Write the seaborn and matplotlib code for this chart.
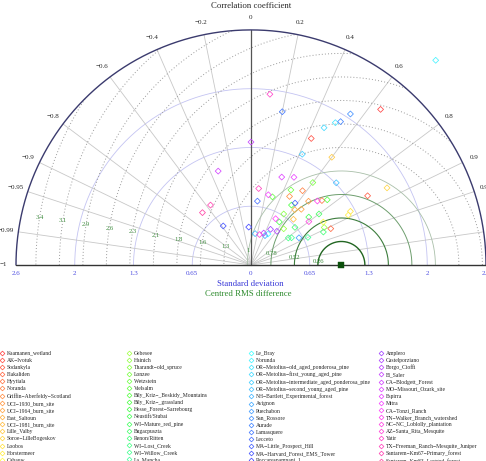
import numpy as np
import pandas as pd
import matplotlib
matplotlib.use("Agg")
import matplotlib.pyplot as plt
import matplotlib.colors as mcolors
from matplotlib.lines import Line2D
from matplotlib.legend import Legend
import seaborn as sns

# ---- data -------------------------------------------------------------
sites_col1 = ["Kaamanen_wetland", "AK-Ivotuk", "Sodankyla", "Flakaliden", "Hyytiala",
              "Noranda", "Griffin-Aberfeldy-Scotland", "UCI-1930_burn_site",
              "UCI-1964_burn_site", "East_Saltoun", "UCI-1981_burn_site", "Lille_Valby",
              "Soroe-LilleBogeskov", "Loobos", "Horstermeer", "Cabauw"]
sites_col2 = ["Gebesee", "Hainich", "Tharandt-old_spruce", "Lonzee", "Wetzstein",
              "Vielsalm", "Bily_Kriz-_Beskidy_Mountains", "Bily_Kriz-_grassland",
              "Hesse_Forest-Sarrebourg", "Neustift/Stubai", "WI-Mature_red_pine",
              "Bugacpuszta", "Renon/Ritten", "WI-Lost_Creek", "WI-Willow_Creek", "La_Mancha"]
sites_col3 = ["Le_Bray", "Norunda", "OR-Metolius-old_aged_ponderosa_pine",
              "OR-Metolius-first_young_aged_pine",
              "OR-Metolius-intermediate_aged_ponderosa_pine",
              "OR-Metolius-second_young_aged_pine", "NH-Bartlett_Experimental_forest",
              "Avignon", "Puechabon", "San_Rossore", "Aurade", "Lamasquere", "Lecceto",
              "MA-Little_Prospect_Hill", "MA-Harvard_Forest_EMS_Tower", "Roccarespampani_1"]
sites_col4 = ["Amplero", "Castelporziano", "Borgo_Cioffi", "El_Saler", "CA-Blodgett_Forest",
              "MO-Missouri_Ozark_site", "Espirra", "Mitra", "CA-Tonzi_Ranch",
              "TN-Walker_Branch_watershed", "NC-NC_Loblolly_plantation",
              "AZ-Santa_Rita_Mesquite", "Yatir", "TX-Freeman_Ranch-Mesquite_Juniper",
              "Santarem-Km67-Primary_forest", "Santarem-Km83-Logged_forest"]

# normalised standard deviation and correlation, one per site (same order)
std_dev = [2.24, 1.55, 1.50, 0.97, 1.06, 1.00, 0.87, 0.95, 0.83, 0.78, 0.69, 1.49, 1.73, 1.25, 1.21, 0.93,
           0.91, 0.54, 0.67, 1.14, 0.94, 0.79, 1.11, 0.80, 0.57, 0.83, 0.94, 0.64, 0.88, 0.51, 0.54, 0.70,
           0.39, 3.05, 1.83, 1.72, 1.35, 1.31, 0.35, 0.36, 0.61, 2.00, 1.87, 1.73, 0.71, 0.84, 0.53, 0.42,
           0.45, 0.47, 0.38, 1.36, 1.10, 1.03, 1.08, 0.80, 0.58, 1.02, 0.80, 0.35, 1.90, 0.85, 0.80, 0.79]
corr = [0.64, 0.43, 0.86, 0.91, 0.74, 0.57, 0.49, 0.67, 0.67, 0.62, 0.68, 0.60, 0.87, 0.88, 0.89, 0.86,
        0.89, 0.67, 0.54, 0.60, 0.47, 0.30, 0.76, 0.56, 0.55, 0.77, 0.80, 0.76, 0.91, 0.81, 0.83, 0.90,
        0.48, 0.67, 0.51, 0.47, 0.42, 0.72, 0.13, 0.43, 0.87, 0.55, 0.53, 0.20, 0.10, 0.58, -0.58, -0.06,
        0.48, 0.61, 0.37, 0.00, -0.33, 0.33, 0.44, 0.24, 0.47, 0.72, 0.80, 0.27, 0.11, 0.10, -0.56, -0.68]

ref_sd = 1.0
sd_levels = [0.65, 1.3, 1.95, 2.6]
sd_labels = ["0.65", "1.3", "2", "2.6"]
corr_levels = [0.2, 0.4, 0.6, 0.8, 0.9, 0.95, 0.99]
rms_levels = [0.26, 0.52, 0.78, 1.04, 1.3, 1.56, 1.82, 2.08, 2.34, 2.6, 2.86, 3.12, 3.38]
rms_labels = ["0.26", "0.52", "0.78", "1", "1.3", "1.6", "1.8", "2.1", "2.3", "2.6", "2.9", "3.1", "3.4"]

# ---- style --------------------------------------------------------------
sns.set_style("white")
plt.rcParams["font.family"] = ["Liberation Serif", "DejaVu Serif"]

columns = [sites_col1, sites_col2, sites_col3, sites_col4]
sites = sites_col1 + sites_col2 + sites_col3 + sites_col4
palette = {}
for c, col in enumerate(columns):
    for r, name in enumerate(col):
        palette[name] = mcolors.hsv_to_rgb(((23 * c + r) / 92.0, 0.72, 1.0))

df = pd.DataFrame({"site": sites, "sd": std_dev, "corr": corr})
df["x"] = df["sd"] * df["corr"]
df["y"] = df["sd"] * np.sqrt(1 - df["corr"] ** 2)

fig = plt.figure(figsize=(4.86, 4.61), dpi=100)
ax = fig.add_axes([0, 0, 1, 1])
ax.axis("off")

R = sd_levels[-1]
t = np.linspace(0, np.pi, 400)

# standard deviation arcs
for s in sd_levels[:-1]:
    ax.plot(s * np.cos(t), s * np.sin(t), color="#c4c4f2", lw=0.6, zorder=1)

# correlation rays
for c in corr_levels:
    for cc in (c, -c):
        ax.plot([0, R * cc], [0, R * np.sqrt(1 - cc ** 2)], color="#c8c8c8", lw=0.6, zorder=1)
ax.plot([0, 0], [0, R], color="#555555", lw=0.9, zorder=2)

# centred RMS arcs
rms_style = {0.26: ("#226622", 1.0, "-"), 0.52: ("#3d7d3d", 0.8, "-"),
             0.78: ("#6e9e6e", 0.7, "-"), 1.04: ("#a9bfa9", 0.6, "-")}
for g, lab in zip(rms_levels, rms_labels):
    gx = ref_sd + g * np.cos(t)
    gy = g * np.sin(t)
    inside = gx ** 2 + gy ** 2 <= R ** 2
    gx = np.where(inside, gx, np.nan)
    col, lw, ls = rms_style.get(g, ("#9a9a9a", 0.7, (0, (1, 2.2))))
    ax.plot(gx, gy, color=col, lw=lw, ls=ls, zorder=1)
    a = np.deg2rad(171)
    ax.text(ref_sd + g * np.cos(a), g * np.sin(a), lab, color="#3a8a3a",
            fontsize=4.8, ha="center", va="center", zorder=3)

# frame
ax.plot(R * np.cos(t), R * np.sin(t), color="#3b3b6e", lw=1.0, zorder=2)
ax.plot([-R, R], [0, 0], color="#333333", lw=1.0, zorder=2)

# correlation labels
for c in [0.0] + corr_levels + [1.0]:
    for cc in ((c,) if c == 0 else (c, -c)):
        ang = np.arccos(cc)
        txt = ("%g" % cc).replace("-", "\u2212")
        ax.text(2.74 * np.cos(ang), 2.74 * np.sin(ang), txt, fontsize=5,
                ha="center", va="center")

# standard deviation tick labels
for s, lab in zip([0.0] + sd_levels, ["0"] + sd_labels):
    for xs in ((0.0,) if s == 0 else (-s, s)):
        ax.text(xs, -0.09, lab, color="#4a4ae0", fontsize=5, ha="center", va="center")

ax.text(0, 2.87, "Correlation coefficient", fontsize=6.3, ha="center", va="center")
ax.text(-0.01, -0.21, "Standard deviation", fontsize=6.3, color="#3a3ad8",
        ha="center", va="center")
ax.text(-0.03, -0.32, "Centred RMS difference", fontsize=6.3, color="#2e8b2e",
        ha="center", va="center")

# points
sns.scatterplot(data=df, x="x", y="y", hue="site", hue_order=sites, palette=palette,
                marker="D", s=9, linewidth=0.55, legend=False, ax=ax, zorder=5)
pts = ax.collections[-1]
pts.set_edgecolors(pts.get_facecolors())
pts.set_facecolors("none")

# reference point
sns.scatterplot(x=[ref_sd], y=[0.0], marker="s", s=14, color="#0b4f0b",
                edgecolor="#0b4f0b", legend=False, ax=ax, zorder=6)

ax.set_xlabel("")
ax.set_ylabel("")
ax.set_xlim(-2.777, 2.6)
ax.set_ylim(-2.168, 2.931)

# legend, four columns of fixed width
col_x = [2, 129, 251, 381]
for c, col in enumerate(columns):
    handles = [Line2D([], [], marker="D", ls="", mfc="none", mec=palette[n],
                      ms=2.4, mew=0.55) for n in col]
    labels = [n.replace("-", "\u2212") for n in col]
    leg = Legend(ax, handles, labels, loc="upper left",
                 bbox_to_anchor=((col_x[c] - 2.3) / 486, 1 - 350.5 / 461),
                 bbox_transform=fig.transFigure, frameon=False, fontsize=4.1,
                 handlelength=0.8, handletextpad=0.45, labelspacing=0.37,
                 borderpad=0, borderaxespad=0)
    ax.add_artist(leg)

fig.savefig("out.png", dpi=100)
